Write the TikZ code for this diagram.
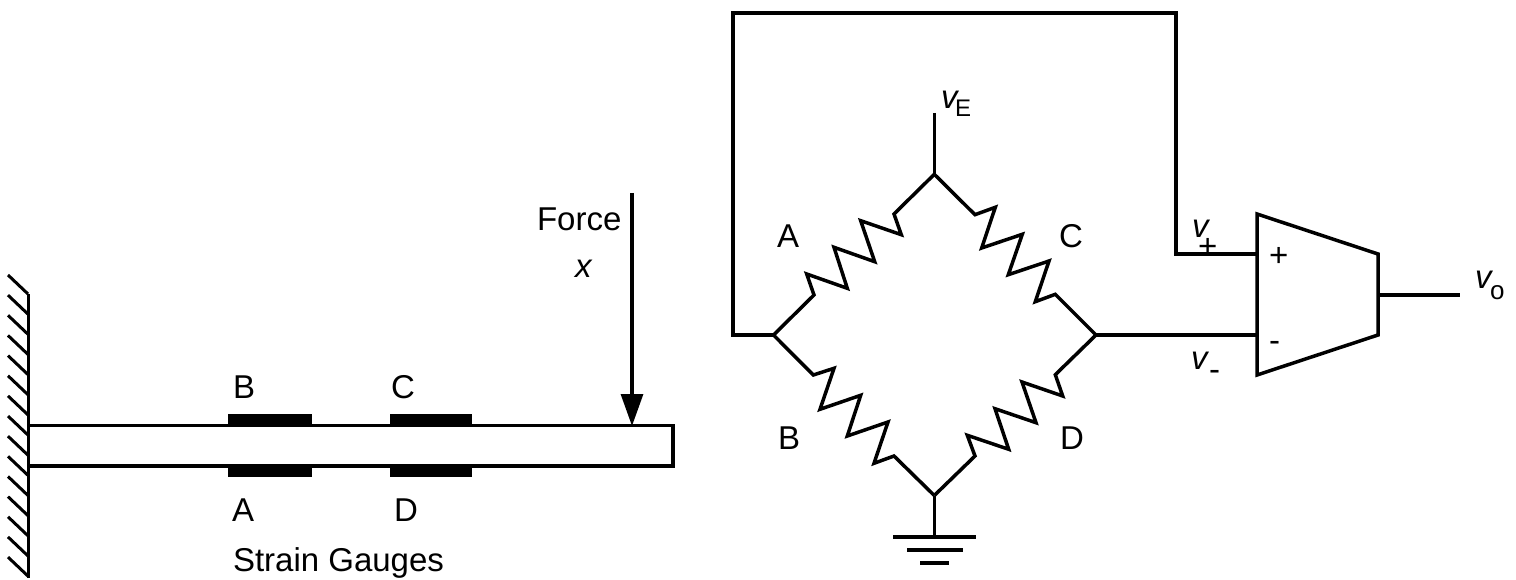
\documentclass[tikz,border=0pt]{standalone}
\usepackage{fontspec}
\setmainfont{Liberation Sans}
\usetikzlibrary{arrows.meta}
\newcommand{\lblfont}{\fontsize{33}{36}\selectfont}
\newcommand{\subfont}{\fontsize{24}{26}\selectfont}
\newcommand{\subofont}{\fontsize{26}{28}\selectfont}
\tikzset{
  wire/.style={line width=3.5pt,black,line join=miter},
  thinwire/.style={line width=3.1pt,black},
  hatch/.style={line width=3pt,black},
  pad/.style={fill=black,draw=none},
  lbl/.style={inner sep=0pt,outer sep=0pt,anchor=base west,font=\lblfont,text=black},
  forcearrow/.style={line width=3.1pt,black,-{Triangle[length=32pt,width=22pt]}},
}
\begin{document}
\begin{tikzpicture}[x=1pt,y=-1pt]
\useasboundingbox (0,0) rectangle (1516,580);
\fill[white] (0,0) rectangle (1516,580);
% wall
\draw[wire] (28.5,294) -- (28.5,578);
\foreach \i in {0,...,14} {
  \draw[hatch] (8,275+20.15*\i) -- (28,294+20.15*\i);
}
% beam
\draw[thinwire] (30,425.7) -- (673,425.7) -- (673,466) -- (30,466);
% gauges
\fill[pad] (228,414) rectangle (312,427);
\fill[pad] (228,465) rectangle (312,477);
\fill[pad] (390,414) rectangle (472,427);
\fill[pad] (390,465) rectangle (472,477);
% force
\coordinate (ftop) at (632,193);
\coordinate (ftip) at (632,426);
\draw[forcearrow] (ftop) -- (ftip);
% beam labels
\node[lbl] (gB) at (233,398) {B};
\node[lbl] (gC) at (391,398) {C};
\node[lbl] (gA) at (232,521) {A};
\node[lbl] (gD) at (394,521) {D};
\node[lbl] (sg) at (233,571) {Strain Gauges};
\node[lbl] (force) at (537,231) {Force};
\node[lbl] (fx) at (575,278) {\itshape x};
% bridge
\coordinate (top) at (934.3,174.3);
\coordinate (left) at (773.5,335);
\coordinate (right) at (1096,335);
\coordinate (bot) at (934.3,495.5);
\coordinate (vein) at (934.3,113);
\coordinate (gnd) at (934.3,537);
\draw[wire] (vein) -- (top);
\draw[wire] (gnd) -- (bot);
% resistors
\draw[wire] (left) -- (814,295) -- (806.7,274) -- (847.3,288.3) -- (834,247.3) -- (874.7,261.7) -- (860.7,220.7) -- (901.3,234.7) -- (894,214) -- (top);
\draw[wire] (top) -- (975,214.7) -- (995.3,207.3) -- (981.7,248) -- (1022.3,234.3) -- (1008.3,274.7) -- (1049,261) -- (1035.3,301.7) -- (1055.3,294.3) -- (right);
\draw[wire] (left) -- (813.3,375) -- (834,368.3) -- (820,409.3) -- (860.7,395.3) -- (847.3,436) -- (888,422) -- (874,463.3) -- (894,456) -- (bot);
\draw[wire] (bot) -- (975,456) -- (967.3,435.3) -- (1008.7,449.3) -- (995,408.7) -- (1036,422.7) -- (1022,382) -- (1062.7,396) -- (1055.3,374.7) -- (right);
% ground
\draw[wire] (893,537) -- (976,537);
\draw[wire] (907,550) -- (963,550);
\draw[wire] (920,563) -- (949,563);
% op amp
\coordinate (oa1) at (1257,214);
\coordinate (oa2) at (1378,254);
\coordinate (oa3) at (1378,335);
\coordinate (oa4) at (1257,375);
\draw[wire] (oa1) -- (oa2) -- (oa3) -- (oa4) -- cycle;
\coordinate (inp) at (1257,254);
\coordinate (inm) at (1257,335);
\coordinate (outa) at (1378,295);
\coordinate (outb) at (1460,295);
\coordinate (fb1) at (733,335);
\coordinate (fb2) at (733,13);
\coordinate (fb3) at (1176,13);
\coordinate (fb4) at (1176,254);
\draw[wire] (left) -- (fb1) -- (fb2) -- (fb3) -- (fb4) -- (inp);
\draw[wire] (right) -- (inm);
\draw[wire] (outa) -- (outb);
% bridge labels
\node[lbl] (ve) at (941,109) {\itshape v};
\node[lbl,font=\subfont] (ves) at (955,117) {E};
\node[lbl] (rA) at (777,248) {A};
\node[lbl] (rC) at (1059,248) {C};
\node[lbl] (rB) at (778,449) {B};
\node[lbl] (rD) at (1060,449) {D};
\node[lbl] (vp) at (1192,238) {\itshape v};
\node[lbl] (vps) at (1198,258) {+};
\node[lbl] (vm) at (1191,369) {\itshape v};
\node[lbl] (vms) at (1209,380) {-};
\node[lbl] (op) at (1269,267) {+};
\node[lbl] (om) at (1269,351) {-};
\node[lbl] (vo) at (1475,288) {\itshape v};
\node[lbl,font=\subofont] (vos) at (1490,299.5) {o};
\end{tikzpicture}
\end{document}
